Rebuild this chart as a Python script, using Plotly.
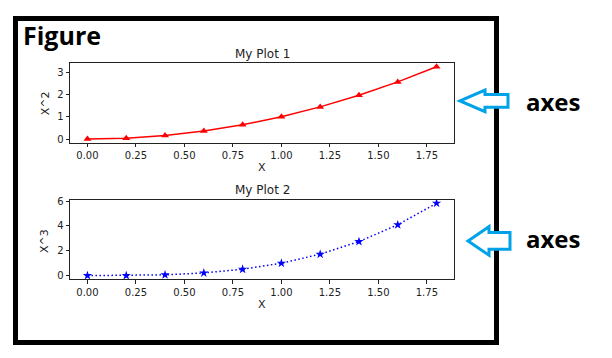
import plotly.graph_objects as go

x_vals = [0.0, 0.2, 0.4, 0.6, 0.8, 1.0, 1.2, 1.4, 1.6, 1.8]
y_sq = [0.0, 0.04, 0.16, 0.36, 0.64, 1.0, 1.44, 1.96, 2.56, 3.24]
y_cube = [0.0, 0.008, 0.064, 0.216, 0.512, 1.0, 1.728, 2.744, 4.096, 5.832]
x_ticks = [0.0, 0.25, 0.5, 0.75, 1.0, 1.25, 1.5, 1.75]
x_tick_labels = ["0.00", "0.25", "0.50", "0.75", "1.00", "1.25", "1.50", "1.75"]
y1_ticks = [0, 1, 2, 3]
y2_ticks = [0, 2, 4, 6]

# page body has an 8px margin; work in window pixels and convert
OFF = 8
W, H = 596, 342


def px(x):
    return (x - OFF) / W


def py(y):
    return 1 - (y - OFF) / H


fig = go.Figure()
fig.add_trace(go.Scatter(x=x_vals, y=y_sq, mode="lines+markers",
                         line=dict(color="red", width=1.5),
                         marker=dict(symbol="triangle-up", size=7, color="red"),
                         xaxis="x", yaxis="y", showlegend=False))
fig.add_trace(go.Scatter(x=x_vals, y=y_cube, mode="lines+markers",
                         line=dict(color="blue", width=1.5, dash="1.5px,2.5px"),
                         marker=dict(symbol="star", size=7, color="blue"),
                         xaxis="x2", yaxis="y2", showlegend=False))

tickfont = dict(family="DejaVu Sans", size=10, color="#222")
common = dict(showline=True, mirror=True, linecolor="#222", linewidth=1,
              ticks="outside", ticklen=3.5, tickcolor="#222", showgrid=False,
              zeroline=False, tickfont=tickfont)

xd = [px(70), px(454)]
fig.update_layout(
    width=W, height=H, margin=dict(l=0, r=0, t=0, b=0),
    paper_bgcolor="white", plot_bgcolor="white",
    xaxis=dict(domain=xd, range=[-0.09, 1.89], tickvals=x_ticks, ticktext=x_tick_labels,
               anchor="y", **common),
    yaxis=dict(domain=[py(141), py(60)], range=[-0.162, 3.402], tickvals=y1_ticks,
               anchor="x", **common),
    xaxis2=dict(domain=xd, range=[-0.09, 1.89], tickvals=x_ticks, ticktext=x_tick_labels,
                anchor="y2", **common),
    yaxis2=dict(domain=[py(280), py(199)], range=[-0.29, 6.12], tickvals=y2_ticks,
                anchor="x2", **common),
)

lab = dict(family="DejaVu Sans", size=12, color="#222")
ax_lab = dict(family="DejaVu Sans", size=11, color="#222")
ann = [
    dict(text="My Plot 1", x=px(262), y=py(50.5), font=lab),
    dict(text="My Plot 2", x=px(262), y=py(189), font=lab),
    dict(text="X", x=px(262), y=py(166.5), font=ax_lab),
    dict(text="X", x=px(262), y=py(306), font=ax_lab),
    dict(text="X^2", x=px(45), y=py(101), font=ax_lab, textangle=-90),
    dict(text="X^3", x=px(45), y=py(241), font=ax_lab, textangle=-90),
    dict(text="<b>Figure</b>", x=px(21), y=py(31), font=dict(family="Open Sans", size=25, color="black"),
         xanchor="left"),
    dict(text="<b>axes</b>", x=px(524), y=py(99), font=dict(family="Open Sans", size=24, color="black"),
         xanchor="left"),
    dict(text="<b>axes</b>", x=px(524), y=py(239), font=dict(family="Open Sans", size=24, color="black"),
         xanchor="left"),
]
for a in ann:
    a.update(xref="paper", yref="paper", showarrow=False)
    a.setdefault("xanchor", "center")
    a.setdefault("yanchor", "middle")
fig.update_layout(annotations=ann)


def arrow_path(tip_x, cy, head_base_x, right_x, head_half, shaft_half):
    pts = [(tip_x, cy), (head_base_x, cy - head_half), (head_base_x, cy - shaft_half),
           (right_x, cy - shaft_half), (right_x, cy + shaft_half), (head_base_x, cy + shaft_half),
           (head_base_x, cy + head_half)]
    d = "M " + " L ".join(f"{px(a):.5f},{py(b):.5f}" for a, b in pts) + " Z"
    return d


shapes = [
    dict(type="rect", xref="paper", yref="paper", x0=px(15.5), x1=px(496.5),
         y0=py(344.5), y1=py(14.5), line=dict(color="black", width=5)),
    dict(type="path", xref="paper", yref="paper",
         path=arrow_path(460, 98.5, 485, 508, 11, 6.5),
         line=dict(color="#00a2e8", width=3), fillcolor="white"),
    dict(type="path", xref="paper", yref="paper",
         path=arrow_path(468, 241, 489, 510, 14.5, 8.5),
         line=dict(color="#00a2e8", width=3), fillcolor="white"),
]
fig.update_layout(shapes=shapes)

fig.write_html("out.html")
